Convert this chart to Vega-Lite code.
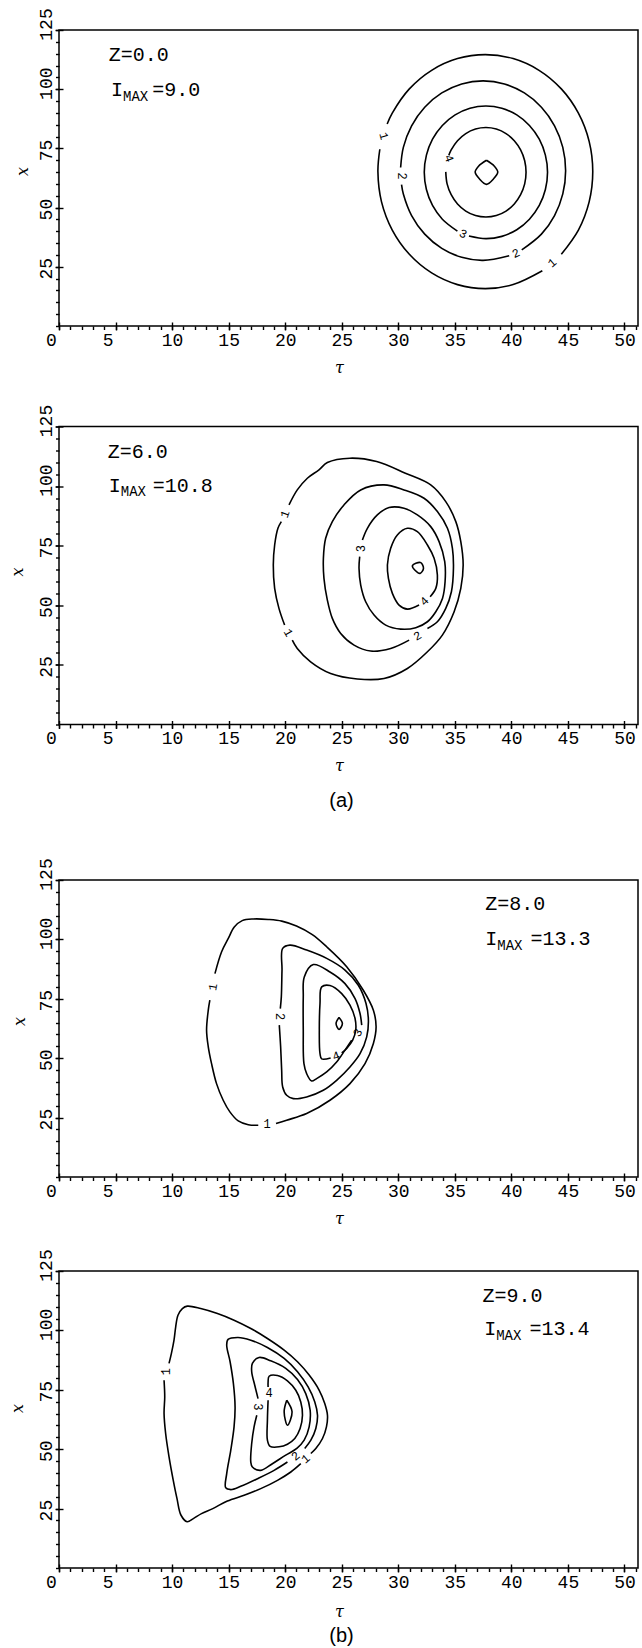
{
"$schema": "https://vega.github.io/schema/vega-lite/v6.json",
"background": "white",
"padding": {"left": 8, "top": 7, "right": 0, "bottom": 0},
"datasets": {
"c": [
{"p":1,"s":"1a","t":28.37,"x":74.64},{"p":1,"s":"1a","t":28.2,"x":65.2},{"p":1,"s":"1a","t":28.52,"x":52.41},{"p":1,"s":"1a","t":29.47,"x":40.5},{"p":1,"s":"1a","t":30.98,"x":30.27},{"p":1,"s":"1a","t":32.95,"x":22.42},{"p":1,"s":"1a","t":35.24,"x":17.48},{"p":1,"s":"1a","t":37.7,"x":15.8},{"p":1,"s":"1a","t":40.16,"x":17.48},{"p":1,"s":"1a","t":42.74,"x":23.31},
{"p":1,"s":"1b","t":44.42,"x":30.27},{"p":1,"s":"1b","t":45.93,"x":40.5},{"p":1,"s":"1b","t":46.88,"x":52.41},{"p":1,"s":"1b","t":47.2,"x":65.2},{"p":1,"s":"1b","t":46.88,"x":77.99},{"p":1,"s":"1b","t":45.93,"x":89.9},{"p":1,"s":"1b","t":44.42,"x":100.13},{"p":1,"s":"1b","t":42.45,"x":107.98},{"p":1,"s":"1b","t":40.16,"x":112.92},{"p":1,"s":"1b","t":37.7,"x":114.6},{"p":1,"s":"1b","t":35.24,"x":112.92},{"p":1,"s":"1b","t":32.95,"x":107.98},{"p":1,"s":"1b","t":30.98,"x":100.13},{"p":1,"s":"1b","t":29.47,"x":89.9},{"p":1,"s":"1b","t":29.02,"x":85.31},
{"p":1,"s":"2a","t":30.29,"x":59.69},{"p":1,"s":"2a","t":30.45,"x":55.78},{"p":1,"s":"2a","t":31.18,"x":46.65},{"p":1,"s":"2a","t":32.34,"x":38.8},{"p":1,"s":"2a","t":33.85,"x":32.78},{"p":1,"s":"2a","t":35.61,"x":28.99},{"p":1,"s":"2a","t":37.5,"x":27.7},{"p":1,"s":"2a","t":39.81,"x":29.67},
{"p":1,"s":"2b","t":40.92,"x":32.13},{"p":1,"s":"2b","t":42.66,"x":38.8},{"p":1,"s":"2b","t":43.82,"x":46.65},{"p":1,"s":"2b","t":44.55,"x":55.78},{"p":1,"s":"2b","t":44.8,"x":65.6},{"p":1,"s":"2b","t":44.55,"x":75.42},{"p":1,"s":"2b","t":43.82,"x":84.55},{"p":1,"s":"2b","t":42.66,"x":92.4},{"p":1,"s":"2b","t":41.15,"x":98.42},{"p":1,"s":"2b","t":39.39,"x":102.21},{"p":1,"s":"2b","t":37.5,"x":103.5},{"p":1,"s":"2b","t":35.61,"x":102.21},{"p":1,"s":"2b","t":33.85,"x":98.42},{"p":1,"s":"2b","t":32.34,"x":92.4},{"p":1,"s":"2b","t":31.18,"x":84.55},{"p":1,"s":"2b","t":30.45,"x":75.42},{"p":1,"s":"2b","t":30.21,"x":66.93},
{"p":1,"s":"3","t":36.25,"x":38.0},{"p":1,"s":"3","t":37.75,"x":36.9},{"p":1,"s":"3","t":39.16,"x":37.85},{"p":1,"s":"3","t":40.48,"x":40.65},{"p":1,"s":"3","t":41.6,"x":45.1},{"p":1,"s":"3","t":42.47,"x":50.9},{"p":1,"s":"3","t":43.01,"x":57.65},{"p":1,"s":"3","t":43.2,"x":64.9},{"p":1,"s":"3","t":43.01,"x":72.15},{"p":1,"s":"3","t":42.47,"x":78.9},{"p":1,"s":"3","t":41.6,"x":84.7},{"p":1,"s":"3","t":40.48,"x":89.15},{"p":1,"s":"3","t":39.16,"x":91.95},{"p":1,"s":"3","t":37.75,"x":92.9},{"p":1,"s":"3","t":36.34,"x":91.95},{"p":1,"s":"3","t":35.03,"x":89.15},{"p":1,"s":"3","t":33.9,"x":84.7},{"p":1,"s":"3","t":33.03,"x":78.9},{"p":1,"s":"3","t":32.49,"x":72.15},{"p":1,"s":"3","t":32.3,"x":64.9},{"p":1,"s":"3","t":32.49,"x":57.65},{"p":1,"s":"3","t":33.03,"x":50.9},{"p":1,"s":"3","t":33.9,"x":45.1},{"p":1,"s":"3","t":35.23,"x":40.06},
{"p":1,"s":"4","t":34.2,"x":65.1},{"p":1,"s":"4","t":34.32,"x":60.0},{"p":1,"s":"4","t":34.68,"x":55.45},{"p":1,"s":"4","t":35.24,"x":51.54},{"p":1,"s":"4","t":35.97,"x":48.53},{"p":1,"s":"4","t":36.83,"x":46.64},{"p":1,"s":"4","t":37.75,"x":46.0},{"p":1,"s":"4","t":38.67,"x":46.64},{"p":1,"s":"4","t":39.53,"x":48.53},{"p":1,"s":"4","t":40.26,"x":51.54},{"p":1,"s":"4","t":40.82,"x":55.45},{"p":1,"s":"4","t":41.18,"x":60.0},{"p":1,"s":"4","t":41.3,"x":64.9},{"p":1,"s":"4","t":41.18,"x":69.8},{"p":1,"s":"4","t":40.82,"x":74.35},{"p":1,"s":"4","t":40.26,"x":78.26},{"p":1,"s":"4","t":39.53,"x":81.27},{"p":1,"s":"4","t":38.67,"x":83.16},{"p":1,"s":"4","t":37.75,"x":83.8},{"p":1,"s":"4","t":36.83,"x":83.16},{"p":1,"s":"4","t":35.97,"x":81.27},{"p":1,"s":"4","t":35.24,"x":78.26},{"p":1,"s":"4","t":34.68,"x":74.35},{"p":1,"s":"4","t":34.47,"x":72.06},
{"p":1,"s":"5","t":37.8,"x":70},{"p":1,"s":"5","t":38.5,"x":67.5},{"p":1,"s":"5","t":38.8,"x":65},{"p":1,"s":"5","t":38.4,"x":62},{"p":1,"s":"5","t":37.8,"x":59.8},{"p":1,"s":"5","t":37.2,"x":62},{"p":1,"s":"5","t":36.8,"x":65},{"p":1,"s":"5","t":37.1,"x":67.5},{"p":1,"s":"5","t":37.8,"x":70},

{"p":2,"s":"1a","t":20.34,"x":92.11},{"p":2,"s":"1a","t":21.07,"x":98.4},{"p":2,"s":"1a","t":21.96,"x":103.3},{"p":2,"s":"1a","t":22.99,"x":106.8},{"p":2,"s":"1a","t":23.73,"x":109.9},{"p":2,"s":"1a","t":25.73,"x":111.7},{"p":2,"s":"1a","t":28.09,"x":110.3},{"p":2,"s":"1a","t":30.63,"x":105.4},{"p":2,"s":"1a","t":32.87,"x":100.5},{"p":2,"s":"1a","t":34.2,"x":93.5},{"p":2,"s":"1a","t":35.09,"x":85.1},{"p":2,"s":"1a","t":35.53,"x":76.7},{"p":2,"s":"1a","t":35.74,"x":66.9},{"p":2,"s":"1a","t":35.53,"x":57.1},{"p":2,"s":"1a","t":34.94,"x":47.3},{"p":2,"s":"1a","t":33.9,"x":37.5},{"p":2,"s":"1a","t":32.58,"x":30.5},{"p":2,"s":"1a","t":30.81,"x":23.5},{"p":2,"s":"1a","t":28.74,"x":19.3},{"p":2,"s":"1a","t":26.38,"x":19.1},{"p":2,"s":"1a","t":24.02,"x":21.4},{"p":2,"s":"1a","t":22.25,"x":26.3},{"p":2,"s":"1a","t":21.07,"x":31.9},{"p":2,"s":"1a","t":20.63,"x":35.4},
{"p":2,"s":"1b","t":19.95,"x":41.7},{"p":2,"s":"1b","t":19.45,"x":48.7},{"p":2,"s":"1b","t":19.07,"x":57.1},{"p":2,"s":"1b","t":18.95,"x":66.9},{"p":2,"s":"1b","t":19.07,"x":75.3},{"p":2,"s":"1b","t":19.36,"x":82.3},{"p":2,"s":"1b","t":19.66,"x":85.1},
{"p":2,"s":"2","t":30.96,"x":35.4},{"p":2,"s":"2","t":29.33,"x":31.9},{"p":2,"s":"2","t":27.56,"x":30.8},{"p":2,"s":"2","t":26.09,"x":33.3},{"p":2,"s":"2","t":24.91,"x":38.2},{"p":2,"s":"2","t":24.17,"x":44.5},{"p":2,"s":"2","t":23.73,"x":52.2},{"p":2,"s":"2","t":23.43,"x":61.3},{"p":2,"s":"2","t":23.38,"x":69.7},{"p":2,"s":"2","t":23.58,"x":78.1},{"p":2,"s":"2","t":24.17,"x":85.1},{"p":2,"s":"2","t":25.2,"x":92.1},{"p":2,"s":"2","t":26.68,"x":98.4},{"p":2,"s":"2","t":28.74,"x":100.5},{"p":2,"s":"2","t":30.51,"x":98.4},{"p":2,"s":"2","t":32.28,"x":94.9},{"p":2,"s":"2","t":33.46,"x":89.3},{"p":2,"s":"2","t":34.35,"x":82.3},{"p":2,"s":"2","t":34.79,"x":73.9},{"p":2,"s":"2","t":34.88,"x":65.5},{"p":2,"s":"2","t":34.7,"x":55.7},{"p":2,"s":"2","t":34.2,"x":48.7},{"p":2,"s":"2","t":33.46,"x":43.1},{"p":2,"s":"2","t":32.58,"x":40.3},
{"p":2,"s":"3","t":26.59,"x":70.4},{"p":2,"s":"3","t":26.53,"x":65.5},{"p":2,"s":"3","t":26.68,"x":58.5},{"p":2,"s":"3","t":27.12,"x":51.5},{"p":2,"s":"3","t":27.86,"x":45.9},{"p":2,"s":"3","t":28.89,"x":41.7},{"p":2,"s":"3","t":30.22,"x":40.0},{"p":2,"s":"3","t":31.55,"x":40.6},{"p":2,"s":"3","t":32.58,"x":43.1},{"p":2,"s":"3","t":33.32,"x":47.3},{"p":2,"s":"3","t":33.91,"x":52.9},{"p":2,"s":"3","t":34.14,"x":59.9},{"p":2,"s":"3","t":34.11,"x":68.3},{"p":2,"s":"3","t":33.61,"x":76.7},{"p":2,"s":"3","t":32.87,"x":83.0},{"p":2,"s":"3","t":31.69,"x":87.9},{"p":2,"s":"3","t":30.51,"x":90.7},{"p":2,"s":"3","t":29.19,"x":91.0},{"p":2,"s":"3","t":28.15,"x":87.9},{"p":2,"s":"3","t":27.27,"x":82.3},{"p":2,"s":"3","t":26.83,"x":77.4},
{"p":2,"s":"4","t":31.84,"x":50.1},{"p":2,"s":"4","t":30.81,"x":48.4},{"p":2,"s":"4","t":30.07,"x":50.1},{"p":2,"s":"4","t":29.48,"x":55.0},{"p":2,"s":"4","t":29.13,"x":61.3},{"p":2,"s":"4","t":29.04,"x":66.9},{"p":2,"s":"4","t":29.33,"x":73.9},{"p":2,"s":"4","t":29.92,"x":79.5},{"p":2,"s":"4","t":30.81,"x":82.3},{"p":2,"s":"4","t":31.69,"x":80.9},{"p":2,"s":"4","t":32.58,"x":75.3},{"p":2,"s":"4","t":33.17,"x":69.7},{"p":2,"s":"4","t":33.46,"x":62.7},{"p":2,"s":"4","t":33.32,"x":57.1},{"p":2,"s":"4","t":32.82,"x":53.6},
{"p":2,"s":"5","t":31.55,"x":67.6},{"p":2,"s":"5","t":31.99,"x":67.9},{"p":2,"s":"5","t":32.23,"x":65.5},{"p":2,"s":"5","t":31.93,"x":63.4},{"p":2,"s":"5","t":31.46,"x":64.8},{"p":2,"s":"5","t":31.25,"x":66.6},{"p":2,"s":"5","t":31.55,"x":67.6},

{"p":3,"s":"1a","t":13.79,"x":85.6},{"p":3,"s":"1a","t":14.38,"x":94.8},{"p":3,"s":"1a","t":14.97,"x":100.4},{"p":3,"s":"1a","t":15.5,"x":105.2},{"p":3,"s":"1a","t":16.2,"x":107.9},{"p":3,"s":"1a","t":17.2,"x":108.6},{"p":3,"s":"1a","t":18.5,"x":108.4},{"p":3,"s":"1a","t":19.7,"x":107.7},{"p":3,"s":"1a","t":21.0,"x":105.6},{"p":3,"s":"1a","t":22.4,"x":102.0},{"p":3,"s":"1a","t":23.67,"x":96.9},{"p":3,"s":"1a","t":25.44,"x":88.5},{"p":3,"s":"1a","t":26.91,"x":78.6},{"p":3,"s":"1a","t":27.8,"x":70.2},{"p":3,"s":"1a","t":28.04,"x":63.2},{"p":3,"s":"1a","t":27.8,"x":56.2},{"p":3,"s":"1a","t":27.06,"x":47.7},{"p":3,"s":"1a","t":25.73,"x":39.3},{"p":3,"s":"1a","t":23.96,"x":32.3},{"p":3,"s":"1a","t":21.9,"x":26.7},{"p":3,"s":"1a","t":20.13,"x":23.9},{"p":3,"s":"1a","t":19.19,"x":22.5},
{"p":3,"s":"1b","t":17.62,"x":21.8},{"p":3,"s":"1b","t":16.74,"x":22.0},{"p":3,"s":"1b","t":15.85,"x":23.6},{"p":3,"s":"1b","t":15.11,"x":27.4},{"p":3,"s":"1b","t":14.52,"x":32.3},{"p":3,"s":"1b","t":13.93,"x":39.3},{"p":3,"s":"1b","t":13.49,"x":47.7},{"p":3,"s":"1b","t":13.2,"x":54.8},{"p":3,"s":"1b","t":13.05,"x":61.8},{"p":3,"s":"1b","t":13.2,"x":70.2},{"p":3,"s":"1b","t":13.34,"x":74.4},
{"p":3,"s":"2","t":19.48,"x":63.9},{"p":3,"s":"2","t":19.6,"x":54.7},{"p":3,"s":"2","t":19.69,"x":44.9},{"p":3,"s":"2","t":19.78,"x":37.9},{"p":3,"s":"2","t":20.13,"x":34.4},{"p":3,"s":"2","t":20.72,"x":33.0},{"p":3,"s":"2","t":21.9,"x":33.7},{"p":3,"s":"2","t":23.37,"x":36.5},{"p":3,"s":"2","t":24.55,"x":40.7},{"p":3,"s":"2","t":25.73,"x":46.3},{"p":3,"s":"2","t":26.62,"x":51.9},{"p":3,"s":"2","t":27.21,"x":59.0},{"p":3,"s":"2","t":27.36,"x":66.0},{"p":3,"s":"2","t":27.15,"x":73.0},{"p":3,"s":"2","t":26.47,"x":80.7},{"p":3,"s":"2","t":25.29,"x":87.1},{"p":3,"s":"2","t":23.67,"x":92.0},{"p":3,"s":"2","t":21.9,"x":95.5},{"p":3,"s":"2","t":20.42,"x":97.6},{"p":3,"s":"2","t":19.78,"x":96.2},{"p":3,"s":"2","t":19.72,"x":87.1},{"p":3,"s":"2","t":19.66,"x":75.8},{"p":3,"s":"2","t":19.57,"x":70.9},
{"p":3,"s":"3","t":25.88,"x":57.6},{"p":3,"s":"3","t":25.29,"x":53.4},{"p":3,"s":"3","t":24.55,"x":48.4},{"p":3,"s":"3","t":23.67,"x":44.2},{"p":3,"s":"3","t":22.78,"x":41.4},{"p":3,"s":"3","t":22.34,"x":40.4},{"p":3,"s":"3","t":21.9,"x":43.5},{"p":3,"s":"3","t":21.66,"x":47.7},{"p":3,"s":"3","t":21.6,"x":61.8},{"p":3,"s":"3","t":21.6,"x":75.8},{"p":3,"s":"3","t":21.69,"x":84.2},{"p":3,"s":"3","t":22.49,"x":89.4},{"p":3,"s":"3","t":23.96,"x":86.3},{"p":3,"s":"3","t":25.29,"x":81.4},{"p":3,"s":"3","t":26.18,"x":75.1},{"p":3,"s":"3","t":26.62,"x":68.8},{"p":3,"s":"3","t":26.77,"x":63.9},
{"p":3,"s":"4","t":24.02,"x":50.1},{"p":3,"s":"4","t":23.23,"x":49.7},{"p":3,"s":"4","t":23.08,"x":51.9},{"p":3,"s":"4","t":23.02,"x":61.8},{"p":3,"s":"4","t":23.08,"x":73.0},{"p":3,"s":"4","t":23.23,"x":80.0},{"p":3,"s":"4","t":23.96,"x":80.6},{"p":3,"s":"4","t":25.0,"x":77.2},{"p":3,"s":"4","t":25.73,"x":72.3},{"p":3,"s":"4","t":26.18,"x":66.7},{"p":3,"s":"4","t":26.24,"x":61.8},{"p":3,"s":"4","t":25.97,"x":57.6},{"p":3,"s":"4","t":25.44,"x":54.1},{"p":3,"s":"4","t":25.0,"x":52.2},
{"p":3,"s":"5","t":24.76,"x":67.1},{"p":3,"s":"5","t":25.06,"x":64.6},{"p":3,"s":"5","t":24.76,"x":62.1},{"p":3,"s":"5","t":24.5,"x":64.6},{"p":3,"s":"5","t":24.76,"x":67.1},

{"p":4,"s":"1a","t":9.73,"x":86.1},{"p":4,"s":"1a","t":9.94,"x":90.3},{"p":4,"s":"1a","t":10.17,"x":95.9},{"p":4,"s":"1a","t":10.32,"x":101.5},{"p":4,"s":"1a","t":10.52,"x":106.4},{"p":4,"s":"1a","t":10.91,"x":109.2},{"p":4,"s":"1a","t":11.35,"x":110.2},{"p":4,"s":"1a","t":12.53,"x":109.2},{"p":4,"s":"1a","t":14.01,"x":107.1},{"p":4,"s":"1a","t":15.48,"x":104.3},{"p":4,"s":"1a","t":16.96,"x":100.8},{"p":4,"s":"1a","t":18.43,"x":96.6},{"p":4,"s":"1a","t":19.91,"x":91.7},{"p":4,"s":"1a","t":21.09,"x":86.8},{"p":4,"s":"1a","t":22.12,"x":81.2},{"p":4,"s":"1a","t":23.0,"x":74.9},{"p":4,"s":"1a","t":23.5,"x":69.2},{"p":4,"s":"1a","t":23.74,"x":64.3},{"p":4,"s":"1a","t":23.65,"x":59.4},{"p":4,"s":"1a","t":23.3,"x":54.5},{"p":4,"s":"1a","t":22.71,"x":50.3},{"p":4,"s":"1a","t":22.27,"x":48.2},
{"p":4,"s":"1b","t":21.38,"x":43.9},{"p":4,"s":"1b","t":20.5,"x":40.4},{"p":4,"s":"1b","t":19.32,"x":36.9},{"p":4,"s":"1b","t":17.84,"x":33.4},{"p":4,"s":"1b","t":16.37,"x":30.6},{"p":4,"s":"1b","t":14.89,"x":28.2},{"p":4,"s":"1b","t":13.6,"x":25.0},{"p":4,"s":"1b","t":12.6,"x":22.9},{"p":4,"s":"1b","t":11.88,"x":20.8},{"p":4,"s":"1b","t":11.33,"x":19.5},{"p":4,"s":"1b","t":10.79,"x":22.2},{"p":4,"s":"1b","t":10.43,"x":29.3},{"p":4,"s":"1b","t":10.1,"x":37.0},{"p":4,"s":"1b","t":9.73,"x":46.8},{"p":4,"s":"1b","t":9.43,"x":56.6},{"p":4,"s":"1b","t":9.29,"x":65.0},{"p":4,"s":"1b","t":9.35,"x":72.0},{"p":4,"s":"1b","t":9.29,"x":79.0},
{"p":4,"s":"2","t":20.2,"x":44.6},{"p":4,"s":"2","t":19.02,"x":41.1},{"p":4,"s":"2","t":17.55,"x":37.6},{"p":4,"s":"2","t":16.07,"x":34.4},{"p":4,"s":"2","t":15.19,"x":33.0},{"p":4,"s":"2","t":14.74,"x":33.8},{"p":4,"s":"2","t":14.83,"x":39.7},{"p":4,"s":"2","t":15.19,"x":49.6},{"p":4,"s":"2","t":15.48,"x":59.4},{"p":4,"s":"2","t":15.57,"x":67.8},{"p":4,"s":"2","t":15.42,"x":77.7},{"p":4,"s":"2","t":15.13,"x":86.8},{"p":4,"s":"2","t":14.83,"x":93.8},{"p":4,"s":"2","t":14.95,"x":96.2},{"p":4,"s":"2","t":15.83,"x":97.0},{"p":4,"s":"2","t":16.96,"x":95.9},{"p":4,"s":"2","t":18.43,"x":92.8},{"p":4,"s":"2","t":19.91,"x":88.2},{"p":4,"s":"2","t":21.09,"x":82.6},{"p":4,"s":"2","t":22.03,"x":76.2},{"p":4,"s":"2","t":22.62,"x":69.9},{"p":4,"s":"2","t":22.86,"x":64.3},{"p":4,"s":"2","t":22.71,"x":58.7},{"p":4,"s":"2","t":22.27,"x":53.8},{"p":4,"s":"2","t":21.73,"x":50.3},
{"p":4,"s":"3","t":17.6,"x":71.3},{"p":4,"s":"3","t":17.31,"x":76.9},{"p":4,"s":"3","t":17.04,"x":82.6},{"p":4,"s":"3","t":17.1,"x":86.1},{"p":4,"s":"3","t":17.69,"x":88.6},{"p":4,"s":"3","t":18.72,"x":87.2},{"p":4,"s":"3","t":20.05,"x":84.0},{"p":4,"s":"3","t":21.09,"x":79.3},{"p":4,"s":"3","t":21.82,"x":73.4},{"p":4,"s":"3","t":22.21,"x":66.4},{"p":4,"s":"3","t":22.12,"x":59.4},{"p":4,"s":"3","t":21.68,"x":53.8},{"p":4,"s":"3","t":21.03,"x":50.3},{"p":4,"s":"3","t":20.05,"x":47.5},{"p":4,"s":"3","t":18.87,"x":43.9},{"p":4,"s":"3","t":17.84,"x":41.1},{"p":4,"s":"3","t":17.1,"x":42.5},{"p":4,"s":"3","t":16.96,"x":44.6},{"p":4,"s":"3","t":17.04,"x":52.4},{"p":4,"s":"3","t":17.25,"x":59.4},{"p":4,"s":"3","t":17.49,"x":64.3},
{"p":4,"s":"4","t":18.49,"x":70.6},{"p":4,"s":"4","t":18.43,"x":62.2},{"p":4,"s":"4","t":18.43,"x":53.8},{"p":4,"s":"4","t":18.67,"x":51.2},{"p":4,"s":"4","t":19.46,"x":51.0},{"p":4,"s":"4","t":20.2,"x":52.1},{"p":4,"s":"4","t":20.85,"x":54.5},{"p":4,"s":"4","t":21.32,"x":58.7},{"p":4,"s":"4","t":21.53,"x":64.3},{"p":4,"s":"4","t":21.38,"x":69.9},{"p":4,"s":"4","t":20.94,"x":74.8},{"p":4,"s":"4","t":20.2,"x":78.8},{"p":4,"s":"4","t":19.32,"x":81.0},{"p":4,"s":"4","t":18.58,"x":80.7},{"p":4,"s":"4","t":18.49,"x":78.3},{"p":4,"s":"4","t":18.49,"x":76.2},
{"p":4,"s":"5","t":20.14,"x":70.6},{"p":4,"s":"5","t":20.61,"x":65.7},{"p":4,"s":"5","t":20.2,"x":60.1},{"p":4,"s":"5","t":19.91,"x":65.7},{"p":4,"s":"5","t":20.14,"x":70.6}
],
"lab": [
{"p":1,"t":28.75,"x":80.3,"lab":"1","r":75},{"p":1,"t":43.6,"x":26.8,"lab":"1","r":-40},{"p":1,"t":30.3,"x":63.3,"lab":"2","r":90},{"p":1,"t":40.4,"x":30.8,"lab":"2","r":-25},{"p":1,"t":35.75,"x":39.0,"lab":"3","r":25},{"p":1,"t":34.5,"x":70.8,"lab":"4","r":70},
{"p":2,"t":19.95,"x":88.3,"lab":"1","r":-70},{"p":2,"t":20.3,"x":38.5,"lab":"1","r":60},{"p":2,"t":31.7,"x":37.2,"lab":"2","r":-30},{"p":2,"t":26.7,"x":73.8,"lab":"3","r":-90},{"p":2,"t":32.3,"x":51.8,"lab":"4","r":-45},
{"p":3,"t":13.6,"x":80.0,"lab":"1","r":-80},{"p":3,"t":18.4,"x":22.1,"lab":"1","r":0},{"p":3,"t":19.5,"x":67.5,"lab":"2","r":90},{"p":3,"t":26.4,"x":60.8,"lab":"3","r":-60},{"p":3,"t":24.5,"x":51.0,"lab":"4","r":-20},
{"p":4,"t":9.45,"x":82.6,"lab":"1","r":-90},{"p":4,"t":21.8,"x":46.0,"lab":"1","r":-40},{"p":4,"t":20.9,"x":47.2,"lab":"2","r":-40},{"p":4,"t":17.6,"x":67.8,"lab":"3","r":90},{"p":4,"t":18.58,"x":73.6,"lab":"4","r":0}
],
"ann": [
{"p":1,"k":"m","t":4.4,"x":112,"txt":"Z=0.0"},{"p":1,"k":"m","t":4.6,"x":97,"txt":"I"},{"p":1,"k":"s","t":5.66,"x":95,"txt":"MAX"},{"p":1,"k":"m","t":8.25,"x":97,"txt":"=9.0"},
{"p":2,"k":"m","t":4.3,"x":111.7,"txt":"Z=6.0"},{"p":2,"k":"m","t":4.4,"x":97.7,"txt":"I"},{"p":2,"k":"s","t":5.46,"x":95.7,"txt":"MAX"},{"p":2,"k":"m","t":8.3,"x":97.7,"txt":"=10.8"},
{"p":3,"k":"m","t":37.7,"x":112.3,"txt":"Z=8.0"},{"p":3,"k":"m","t":37.7,"x":97.6,"txt":"I"},{"p":3,"k":"s","t":38.76,"x":95.5,"txt":"MAX"},{"p":3,"k":"m","t":41.7,"x":97.6,"txt":"=13.3"},
{"p":4,"k":"m","t":37.45,"x":112,"txt":"Z=9.0"},{"p":4,"k":"m","t":37.6,"x":98,"txt":"I"},{"p":4,"k":"s","t":38.66,"x":95.9,"txt":"MAX"},{"p":4,"k":"m","t":41.6,"x":98,"txt":"=13.4"}
]
},
"columns": 1,
"align": "none",
"spacing": 45,
"concat": [
{
"title": {"text": "(a)", "orient": "bottom", "anchor": "middle", "font": "Liberation Sans", "fontSize": 20, "fontWeight": "normal", "color": "black", "offset": 17, "dx": 18},
"columns": 1,
"align": "none",
"spacing": 27.5,
"concat": [
{
"width": 579, "height": 296,
"layer": [
{"data": {"name": "c"}, "transform": [{"filter": "datum.p == 1"}],
 "mark": {"type": "line", "interpolate": "catmull-rom", "color": "black", "strokeWidth": 1.6},
 "encoding": {
  "x": {"field": "t", "type": "quantitative", "scale": {"domain": [0, 51.2], "nice": false, "zero": false},
        "axis": {"orient": "bottom", "values": [0,5,10,15,20,25,30,35,40,45,50], "offset": -4, "tickSize": 8, "labelPadding": 1, "labelOffset": {"condition": {"test": "datum.value < 10", "value": -8}, "value": 0}, "title": "τ", "titleX": 280, "titleY": 45, "titleBaseline": "middle", "titleAlign": "center"}},
  "y": {"field": "x", "type": "quantitative", "scale": {"domain": [0, 125], "nice": false},
        "axis": {"orient": "left", "values": [25,50,75,100,125], "offset": -4, "tickSize": 8, "labelAngle": -90, "labelAlign": "center", "labelBaseline": "alphabetic", "labelPadding": 4, "labelOffset": {"condition": {"test": "datum.value >= 100", "value": -6}, "value": 1.5}, "title": "x", "titleAngle": -90, "titleX": -41, "titleY": 141, "titleAlign": "center", "titleBaseline": "middle"}},
  "detail": {"field": "s"},
  "order": {"value": null}
 }},
{"data": {"name": "lab"}, "transform": [{"filter": "datum.p == 1"}],
 "mark": {"type": "text", "font": "Liberation Mono", "fontSize": 12, "color": "black"},
 "encoding": {
  "x": {"field": "t", "type": "quantitative", "scale": {"domain": [0, 51.2], "nice": false, "zero": false},
        "axis": {"orient": "bottom", "values": [0,1,2,3,4,5,6,7,8,9,10,11,12,13,14,15,16,17,18,19,20,21,22,23,24,25,26,27,28,29,30,31,32,33,34,35,36,37,38,39,40,41,42,43,44,45,46,47,48,49,50,51], "tickSize": 3.5, "labels": false, "title": null}},
  "y": {"field": "x", "type": "quantitative", "scale": {"domain": [0, 125], "nice": false},
        "axis": {"orient": "left", "values": [0,5,10,15,20,25,30,35,40,45,50,55,60,65,70,75,80,85,90,95,100,105,110,115,120,125], "tickSize": 3.5, "labels": false, "title": null}},
  "text": {"field": "lab"},
  "angle": {"field": "r", "type": "quantitative", "scale": null}
 }},
{"data": {"name": "ann"}, "transform": [{"filter": "datum.p == 1 && datum.k == 'm'"}],
 "mark": {"type": "text", "align": "left", "baseline": "alphabetic", "font": "Liberation Mono", "fontSize": 20, "color": "black"},
 "encoding": {
  "x": {"field": "t", "type": "quantitative", "scale": {"domain": [0, 51.2], "nice": false, "zero": false}, "axis": null},
  "y": {"field": "x", "type": "quantitative", "scale": {"domain": [0, 125], "nice": false}, "axis": null},
  "text": {"field": "txt"}
 }},
{"data": {"name": "ann"}, "transform": [{"filter": "datum.p == 1 && datum.k == 's'"}],
 "mark": {"type": "text", "align": "left", "baseline": "alphabetic", "font": "Liberation Mono", "fontSize": 14, "color": "black"},
 "encoding": {
  "x": {"field": "t", "type": "quantitative", "scale": {"domain": [0, 51.2], "nice": false, "zero": false}, "axis": null},
  "y": {"field": "x", "type": "quantitative", "scale": {"domain": [0, 125], "nice": false}, "axis": null},
  "text": {"field": "txt"}
 }}
],
"resolve": {"axis": {"x": "independent", "y": "independent"}}
},
{
"width": 579, "height": 298,
"layer": [
{"data": {"name": "c"}, "transform": [{"filter": "datum.p == 2"}],
 "mark": {"type": "line", "interpolate": "catmull-rom", "color": "black", "strokeWidth": 1.6},
 "encoding": {
  "x": {"field": "t", "type": "quantitative", "scale": {"domain": [0, 51.2], "nice": false, "zero": false},
        "axis": {"orient": "bottom", "values": [0,5,10,15,20,25,30,35,40,45,50], "offset": -4, "tickSize": 8, "labelPadding": 1, "labelOffset": {"condition": {"test": "datum.value < 10", "value": -8}, "value": 0}, "title": "τ", "titleX": 280, "titleY": 45, "titleBaseline": "middle", "titleAlign": "center"}},
  "y": {"field": "x", "type": "quantitative", "scale": {"domain": [0, 125], "nice": false},
        "axis": {"orient": "left", "values": [25,50,75,100,125], "offset": -4, "tickSize": 8, "labelAngle": -90, "labelAlign": "center", "labelBaseline": "alphabetic", "labelPadding": 4, "labelOffset": {"condition": {"test": "datum.value >= 100", "value": -6}, "value": 1.5}, "title": "x", "titleAngle": -90, "titleX": -46, "titleY": 145, "titleAlign": "center", "titleBaseline": "middle"}},
  "detail": {"field": "s"},
  "order": {"value": null}
 }},
{"data": {"name": "lab"}, "transform": [{"filter": "datum.p == 2"}],
 "mark": {"type": "text", "font": "Liberation Mono", "fontSize": 12, "color": "black"},
 "encoding": {
  "x": {"field": "t", "type": "quantitative", "scale": {"domain": [0, 51.2], "nice": false, "zero": false},
        "axis": {"orient": "bottom", "values": [0,1,2,3,4,5,6,7,8,9,10,11,12,13,14,15,16,17,18,19,20,21,22,23,24,25,26,27,28,29,30,31,32,33,34,35,36,37,38,39,40,41,42,43,44,45,46,47,48,49,50,51], "tickSize": 3.5, "labels": false, "title": null}},
  "y": {"field": "x", "type": "quantitative", "scale": {"domain": [0, 125], "nice": false},
        "axis": {"orient": "left", "values": [0,5,10,15,20,25,30,35,40,45,50,55,60,65,70,75,80,85,90,95,100,105,110,115,120,125], "tickSize": 3.5, "labels": false, "title": null}},
  "text": {"field": "lab"},
  "angle": {"field": "r", "type": "quantitative", "scale": null}
 }},
{"data": {"name": "ann"}, "transform": [{"filter": "datum.p == 2 && datum.k == 'm'"}],
 "mark": {"type": "text", "align": "left", "baseline": "alphabetic", "font": "Liberation Mono", "fontSize": 20, "color": "black"},
 "encoding": {
  "x": {"field": "t", "type": "quantitative", "scale": {"domain": [0, 51.2], "nice": false, "zero": false}, "axis": null},
  "y": {"field": "x", "type": "quantitative", "scale": {"domain": [0, 125], "nice": false}, "axis": null},
  "text": {"field": "txt"}
 }},
{"data": {"name": "ann"}, "transform": [{"filter": "datum.p == 2 && datum.k == 's'"}],
 "mark": {"type": "text", "align": "left", "baseline": "alphabetic", "font": "Liberation Mono", "fontSize": 14, "color": "black"},
 "encoding": {
  "x": {"field": "t", "type": "quantitative", "scale": {"domain": [0, 51.2], "nice": false, "zero": false}, "axis": null},
  "y": {"field": "x", "type": "quantitative", "scale": {"domain": [0, 125], "nice": false}, "axis": null},
  "text": {"field": "txt"}
 }}
],
"resolve": {"axis": {"x": "independent", "y": "independent"}}
}
]
},
{
"title": {"text": "(b)", "orient": "bottom", "anchor": "middle", "font": "Liberation Sans", "fontSize": 20, "fontWeight": "normal", "color": "black", "offset": 6, "dx": 18},
"columns": 1,
"align": "none",
"spacing": 21,
"concat": [
{
"width": 579, "height": 297,
"layer": [
{"data": {"name": "c"}, "transform": [{"filter": "datum.p == 3"}],
 "mark": {"type": "line", "interpolate": "catmull-rom", "color": "black", "strokeWidth": 1.6},
 "encoding": {
  "x": {"field": "t", "type": "quantitative", "scale": {"domain": [0, 51.2], "nice": false, "zero": false},
        "axis": {"orient": "bottom", "values": [0,5,10,15,20,25,30,35,40,45,50], "offset": -4, "tickSize": 8, "labelPadding": 1, "labelOffset": {"condition": {"test": "datum.value < 10", "value": -8}, "value": 0}, "title": "τ", "titleX": 280, "titleY": 45, "titleBaseline": "middle", "titleAlign": "center"}},
  "y": {"field": "x", "type": "quantitative", "scale": {"domain": [0, 125], "nice": false},
        "axis": {"orient": "left", "values": [25,50,75,100,125], "offset": -4, "tickSize": 8, "labelAngle": -90, "labelAlign": "center", "labelBaseline": "alphabetic", "labelPadding": 4, "labelOffset": {"condition": {"test": "datum.value >= 100", "value": -6}, "value": 1.5}, "title": "x", "titleAngle": -90, "titleX": -43.5, "titleY": 141, "titleAlign": "center", "titleBaseline": "middle"}},
  "detail": {"field": "s"},
  "order": {"value": null}
 }},
{"data": {"name": "lab"}, "transform": [{"filter": "datum.p == 3"}],
 "mark": {"type": "text", "font": "Liberation Mono", "fontSize": 12, "color": "black"},
 "encoding": {
  "x": {"field": "t", "type": "quantitative", "scale": {"domain": [0, 51.2], "nice": false, "zero": false},
        "axis": {"orient": "bottom", "values": [0,1,2,3,4,5,6,7,8,9,10,11,12,13,14,15,16,17,18,19,20,21,22,23,24,25,26,27,28,29,30,31,32,33,34,35,36,37,38,39,40,41,42,43,44,45,46,47,48,49,50,51], "tickSize": 3.5, "labels": false, "title": null}},
  "y": {"field": "x", "type": "quantitative", "scale": {"domain": [0, 125], "nice": false},
        "axis": {"orient": "left", "values": [0,5,10,15,20,25,30,35,40,45,50,55,60,65,70,75,80,85,90,95,100,105,110,115,120,125], "tickSize": 3.5, "labels": false, "title": null}},
  "text": {"field": "lab"},
  "angle": {"field": "r", "type": "quantitative", "scale": null}
 }},
{"data": {"name": "ann"}, "transform": [{"filter": "datum.p == 3 && datum.k == 'm'"}],
 "mark": {"type": "text", "align": "left", "baseline": "alphabetic", "font": "Liberation Mono", "fontSize": 20, "color": "black"},
 "encoding": {
  "x": {"field": "t", "type": "quantitative", "scale": {"domain": [0, 51.2], "nice": false, "zero": false}, "axis": null},
  "y": {"field": "x", "type": "quantitative", "scale": {"domain": [0, 125], "nice": false}, "axis": null},
  "text": {"field": "txt"}
 }},
{"data": {"name": "ann"}, "transform": [{"filter": "datum.p == 3 && datum.k == 's'"}],
 "mark": {"type": "text", "align": "left", "baseline": "alphabetic", "font": "Liberation Mono", "fontSize": 14, "color": "black"},
 "encoding": {
  "x": {"field": "t", "type": "quantitative", "scale": {"domain": [0, 51.2], "nice": false, "zero": false}, "axis": null},
  "y": {"field": "x", "type": "quantitative", "scale": {"domain": [0, 125], "nice": false}, "axis": null},
  "text": {"field": "txt"}
 }}
],
"resolve": {"axis": {"x": "independent", "y": "independent"}}
},
{
"width": 579, "height": 297,
"layer": [
{"data": {"name": "c"}, "transform": [{"filter": "datum.p == 4"}],
 "mark": {"type": "line", "interpolate": "catmull-rom", "color": "black", "strokeWidth": 1.6},
 "encoding": {
  "x": {"field": "t", "type": "quantitative", "scale": {"domain": [0, 51.2], "nice": false, "zero": false},
        "axis": {"orient": "bottom", "values": [0,5,10,15,20,25,30,35,40,45,50], "offset": -4, "tickSize": 8, "labelPadding": 1, "labelOffset": {"condition": {"test": "datum.value < 10", "value": -8}, "value": 0}, "title": "τ", "titleX": 280, "titleY": 47, "titleBaseline": "middle", "titleAlign": "center"}},
  "y": {"field": "x", "type": "quantitative", "scale": {"domain": [0, 125], "nice": false},
        "axis": {"orient": "left", "values": [25,50,75,100,125], "offset": -4, "tickSize": 8, "labelAngle": -90, "labelAlign": "center", "labelBaseline": "alphabetic", "labelPadding": 4, "labelOffset": {"condition": {"test": "datum.value >= 100", "value": -6}, "value": 1.5}, "title": "x", "titleAngle": -90, "titleX": -46, "titleY": 137, "titleAlign": "center", "titleBaseline": "middle"}},
  "detail": {"field": "s"},
  "order": {"value": null}
 }},
{"data": {"name": "lab"}, "transform": [{"filter": "datum.p == 4"}],
 "mark": {"type": "text", "font": "Liberation Mono", "fontSize": 12, "color": "black"},
 "encoding": {
  "x": {"field": "t", "type": "quantitative", "scale": {"domain": [0, 51.2], "nice": false, "zero": false},
        "axis": {"orient": "bottom", "values": [0,1,2,3,4,5,6,7,8,9,10,11,12,13,14,15,16,17,18,19,20,21,22,23,24,25,26,27,28,29,30,31,32,33,34,35,36,37,38,39,40,41,42,43,44,45,46,47,48,49,50,51], "tickSize": 3.5, "labels": false, "title": null}},
  "y": {"field": "x", "type": "quantitative", "scale": {"domain": [0, 125], "nice": false},
        "axis": {"orient": "left", "values": [0,5,10,15,20,25,30,35,40,45,50,55,60,65,70,75,80,85,90,95,100,105,110,115,120,125], "tickSize": 3.5, "labels": false, "title": null}},
  "text": {"field": "lab"},
  "angle": {"field": "r", "type": "quantitative", "scale": null}
 }},
{"data": {"name": "ann"}, "transform": [{"filter": "datum.p == 4 && datum.k == 'm'"}],
 "mark": {"type": "text", "align": "left", "baseline": "alphabetic", "font": "Liberation Mono", "fontSize": 20, "color": "black"},
 "encoding": {
  "x": {"field": "t", "type": "quantitative", "scale": {"domain": [0, 51.2], "nice": false, "zero": false}, "axis": null},
  "y": {"field": "x", "type": "quantitative", "scale": {"domain": [0, 125], "nice": false}, "axis": null},
  "text": {"field": "txt"}
 }},
{"data": {"name": "ann"}, "transform": [{"filter": "datum.p == 4 && datum.k == 's'"}],
 "mark": {"type": "text", "align": "left", "baseline": "alphabetic", "font": "Liberation Mono", "fontSize": 14, "color": "black"},
 "encoding": {
  "x": {"field": "t", "type": "quantitative", "scale": {"domain": [0, 51.2], "nice": false, "zero": false}, "axis": null},
  "y": {"field": "x", "type": "quantitative", "scale": {"domain": [0, 125], "nice": false}, "axis": null},
  "text": {"field": "txt"}
 }}
],
"resolve": {"axis": {"x": "independent", "y": "independent"}}
}
]
}
],
"config": {
 "view": {"stroke": "black", "strokeWidth": 1.5},
 "axis": {"domain": false, "grid": false, "tickColor": "black", "tickWidth": 1.4, "labelColor": "black", "labelFont": "Liberation Mono", "labelFontSize": 18, "labelFlush": false, "labelOverlap": false, "titleColor": "black", "titleFont": "DejaVu Serif", "titleFontStyle": "italic", "titleFontWeight": "normal", "titleFontSize": 16}
}
}
